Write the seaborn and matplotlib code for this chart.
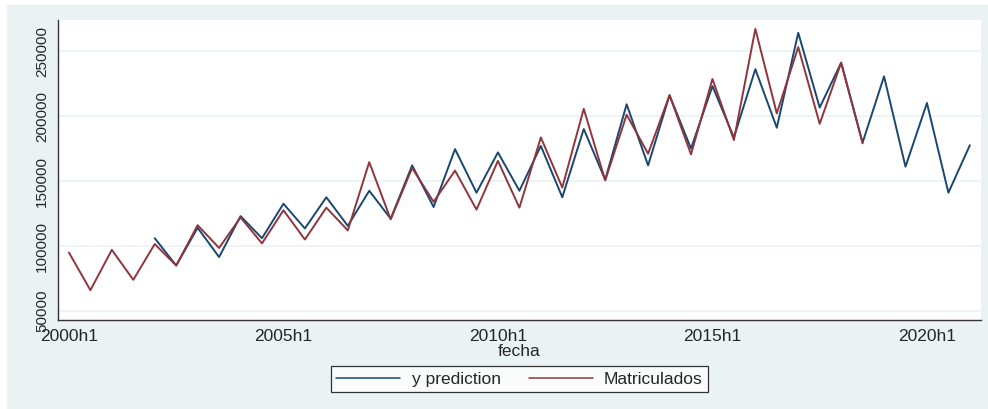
import pandas as pd
import matplotlib.pyplot as plt
import seaborn as sns
from matplotlib.patches import Rectangle

# -------------------------
# DATA (half-year periods, index 0 = 2000h1)
# -------------------------
matric_start = 0
matriculados = [95000, 66000, 97000, 74000, 101500, 85000, 116000, 98500,
                122000, 102000, 127500, 105000, 129500, 112000, 164500, 120500,
                160000, 134000, 158000, 128000, 165500, 129500, 183500, 145000,
                205500, 150500, 201000, 171000, 216000, 170500, 228500, 181500,
                267000, 202000, 253000, 194000, 241000, 179000]

pred_start = 4
prediction = [106000, 85000, 114000, 91500, 123000, 106000, 132500, 113500,
              137500, 115500, 142500, 121000, 162000, 130000, 174500, 141000,
              172000, 142500, 177000, 137500, 190000, 151000, 209000, 162000,
              216000, 175000, 223000, 183500, 236000, 191000, 264000, 206500,
              241000, 179500, 230500, 161000, 210000, 141000, 177500]

tick_pos = [0, 10, 20, 30, 40]
tick_labels = ["2000h1", "2005h1", "2010h1", "2015h1", "2020h1"]
y_ticks = [50000, 100000, 150000, 200000, 250000]

series_names = ["y prediction", "Matriculados"]
colors = {"y prediction": "#1a476f", "Matriculados": "#90353b"}
bg = "#eaf2f3"

df = pd.concat([
    pd.DataFrame({"t": range(pred_start, pred_start + len(prediction)),
                  "valor": prediction, "serie": "y prediction"}),
    pd.DataFrame({"t": range(matric_start, matric_start + len(matriculados)),
                  "valor": matriculados, "serie": "Matriculados"}),
])

# -------------------------
# FIGURE
# -------------------------
sns.set_style("white")
plt.rcParams["font.family"] = ["Liberation Sans", "DejaVu Sans"]

fig = plt.figure(figsize=(9.88, 4.09), dpi=100, facecolor="white")
fig.patches.append(Rectangle((7 / 988, 0), 981 / 988, 404 / 409,
                             transform=fig.transFigure, color=bg, zorder=-1))

ax = fig.add_axes([58 / 988, 1 - 320 / 409, 923 / 988, 300 / 409])
ax.set_facecolor("white")

sns.lineplot(data=df, x="t", y="valor", hue="serie", hue_order=series_names,
             palette=colors, linewidth=1.4, sort=False, ax=ax, legend=False)

ax.set_xlim(-0.51, 42.52)
ax.set_ylim(43080, 273850)
ax.set_xticks(tick_pos)
ax.set_xticklabels(tick_labels, fontsize=12.5)
ax.set_yticks(y_ticks)
ax.set_yticklabels([str(v) for v in y_ticks], fontsize=11, rotation=90,
                   va="center")
ax.set_xlabel("")
ax.set_ylabel("")
fig.text(519.5 / 988, 1 - 352 / 409, "fecha", fontsize=12.5,
         ha="center", va="center")

ax.grid(axis="y", color=bg, linewidth=1.2)
ax.set_axisbelow(True)
for side in ["top", "right"]:
    ax.spines[side].set_visible(False)
for side in ["left", "bottom"]:
    ax.spines[side].set_color("#333333")
    ax.spines[side].set_linewidth(1.0)
ax.tick_params(axis="both", direction="out", length=5, width=0.9,
               color="#333333", pad=1.5)

handles = [plt.Line2D([], [], color=colors[s], linewidth=1.1) for s in series_names]
leg = fig.legend(handles, series_names, loc="center",
                 bbox_to_anchor=(519.5 / 988, 1 - 379 / 409), ncol=2,
                 fontsize=12.5, frameon=True, fancybox=False,
                 handlelength=3.7, handletextpad=0.65, columnspacing=1.6,
                 borderpad=0.3)
leg.get_frame().set_edgecolor("black")
leg.get_frame().set_linewidth(0.9)
leg.get_frame().set_facecolor("white")

fig.savefig("out.png", dpi=100, facecolor=fig.get_facecolor())
